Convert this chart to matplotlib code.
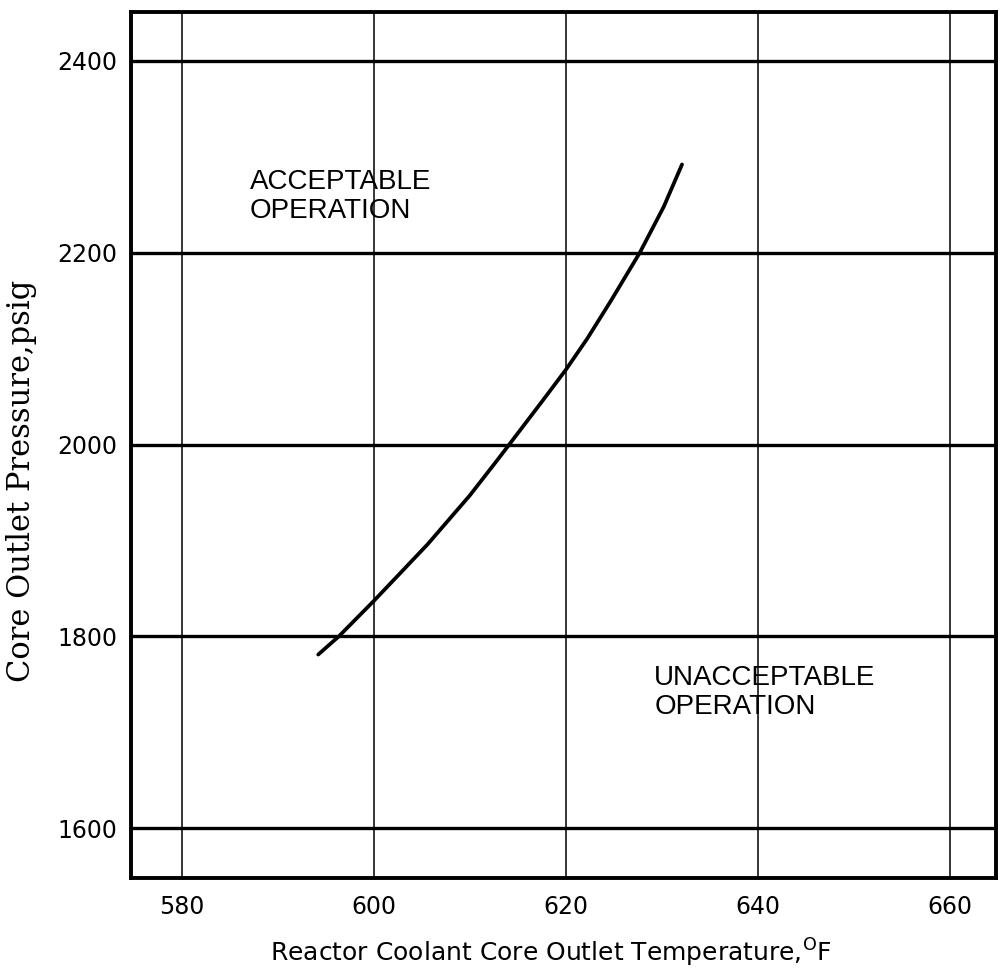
import matplotlib
matplotlib.use("Agg")
import matplotlib.pyplot as plt

# ---- data ----
temperature_f = [594.2, 596.35, 600.0, 602.85, 605.6, 610.0, 612.8, 614.1, 617.6, 620.0, 622.2, 624.7, 627.7, 630.2, 632.1]
pressure_psig = [1781, 1800, 1837, 1867, 1896, 1947, 1983, 2000, 2046, 2078, 2110, 2150, 2200, 2248, 2292]

x_ticks = [580, 600, 620, 640, 660]
y_ticks = [1600, 1800, 2000, 2200, 2400]
x_limits = (574.7, 664.8)
y_limits = (1548, 2451)

x_label = "Reactor Coolant Core Outlet Temperature,$^{\\mathrm{O}}$F"
y_label = "Core Outlet Pressure,psig"
region_labels = ["ACCEPTABLE\nOPERATION", "UNACCEPTABLE\nOPERATION"]
region_pos = [(587.1, 2287), (629.2, 1770)]

fig = plt.figure(figsize=(10.01, 9.76), dpi=100)
ax = fig.add_axes([0.1309, 0.1004, 0.864, 0.8873])

for x in x_ticks:
    ax.axvline(x, color="black", lw=1.1, zorder=1)
for y in y_ticks:
    ax.axhline(y, color="black", lw=2.4, zorder=1)

ax.plot(temperature_f, pressure_psig, color="black", lw=2.7,
        solid_capstyle="round", solid_joinstyle="round", zorder=3)

ax.set_xlim(*x_limits)
ax.set_ylim(*y_limits)
ax.set_xticks(x_ticks)
ax.set_yticks(y_ticks)
ax.set_xticklabels([str(v) for v in x_ticks], fontsize=17, family="DejaVu Sans")
ax.set_yticklabels([str(v) for v in y_ticks], fontsize=17, family="DejaVu Sans")
ax.tick_params(axis="x", length=0, pad=12)
ax.tick_params(axis="y", length=0, pad=10)

for sp in ax.spines.values():
    sp.set_linewidth(2.8)
    sp.set_color("black")

for txt, (tx, ty) in zip(region_labels, region_pos):
    ax.text(tx, ty, txt, fontsize=20, family="Liberation Sans", ha="left", va="top",
            linespacing=1.15, zorder=4)

fig.text(551 / 1001, 1 - 953 / 976, x_label, fontsize=18, family="DejaVu Sans",
         ha="center", va="center")
fig.text(22 / 1001, 1 - 481 / 976, y_label, fontsize=22, family="DejaVu Serif",
         rotation=90, ha="center", va="center")

fig.savefig("out.png", dpi=100)
